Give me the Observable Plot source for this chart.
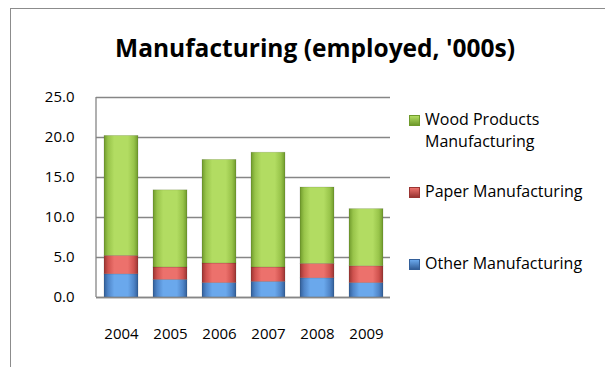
<!DOCTYPE html>
<html><head><meta charset="utf-8">
<script src="https://cdn.jsdelivr.net/npm/d3@7"></script>
<script src="https://cdn.jsdelivr.net/npm/@observablehq/plot@0.6"></script>
<style>
body{margin:0;background:#fff;font-family:"Open Sans",sans-serif;}
#wrap{position:relative;width:605px;height:367px;overflow:hidden;}
#frame{position:absolute;left:10px;top:8px;width:620px;height:380px;border:1px solid #8c8c8c;box-sizing:border-box;}
#title{position:absolute;left:10px;width:610px;top:31px;text-align:center;font-weight:bold;font-size:24.5px;color:#000;white-space:nowrap;}
#chart{position:absolute;left:0;top:0;}
.leg{position:absolute;left:409px;font-size:16px;line-height:22px;color:#000;white-space:nowrap;}
.sw{display:inline-block;width:11px;height:11px;margin-right:5px;vertical-align:-1px;box-sizing:border-box;}
</style></head>
<body><div id="wrap"><div id="frame"></div><div id="title">Manufacturing (employed, '000s)</div><div id="chart"></div><div id="legend"></div></div>
<script>
const years = ["2004","2005","2006","2007","2008","2009"];
const series = ["Other Manufacturing","Paper Manufacturing","Wood Products Manufacturing"];
const other = [2.9,2.2,1.8,1.95,2.4,1.8];
const paper = [2.3,1.55,2.45,1.8,1.8,2.1];
const wood = [15.0,9.65,12.95,14.35,9.55,7.15];
const yTicks = [0,5,10,15,20,25];

const values = [other, paper, wood];
const data = [];
years.forEach((yr,i)=>series.forEach((s,j)=>data.push({year:yr, series:s, value:values[j][i]})));

const grads = {
  "Wood Products Manufacturing":["#6f9a2c","#98c44a","#b2dc62"],
  "Paper Manufacturing":["#9a3532","#cf524e","#ec716c"],
  "Other Manufacturing":["#335f99","#4f85c8","#6aa8ec"]
};
const ids = {"Wood Products Manufacturing":"gw","Paper Manufacturing":"gp","Other Manufacturing":"go"};

const chart = Plot.plot({
  width:605, height:367,
  marginLeft:96, marginRight:215, marginTop:97, marginBottom:70,
  style:{fontFamily:"Open Sans, sans-serif", fontSize:"15px", color:"#000", background:"transparent"},
  x:{domain:years, paddingInner:0.31, paddingOuter:0.155, label:null},
  y:{domain:[0,25], label:null},
  color:{domain:series, range:series.map(s=>`url(#${ids[s]})`)},
  marks:[
    Plot.gridY(yTicks,{stroke:"#868686", strokeOpacity:1, strokeWidth:1.3}),
    Plot.barY(data, Plot.stackY({x:"year", y:"value", fill:"series", order:series, stroke:"rgba(0,0,0,0.15)", strokeWidth:0.8})),
    Plot.ruleY([0],{stroke:"#868686", strokeWidth:1.3}),
    Plot.axisY({ticks:yTicks, tickFormat:d3.format(".1f"), tickSize:0, tickPadding:22, fontSize:15, label:null}),
    Plot.axisX({tickSize:0, tickPadding:31, fontSize:15, label:null})
  ]
});
const svg = d3.select(chart);
const defs = svg.insert("defs",":first-child");
for (const s of series){
  const c = grads[s];
  const g = defs.append("linearGradient").attr("id",ids[s]).attr("x1","0").attr("x2","1").attr("y1","0").attr("y2","0");
  [[0,c[0]],[0.12,c[1]],[0.3,c[2]],[0.7,c[2]],[0.88,c[1]],[1,c[0]]].forEach(([o,col])=>g.append("stop").attr("offset",o).attr("stop-color",col));
}
svg.append("line").attr("x1",96).attr("x2",96).attr("y1",97).attr("y2",297).attr("stroke","#868686").attr("stroke-width",1.3);
document.getElementById("chart").appendChild(chart);

const legend = document.getElementById("legend");
const legItems = [
  {s:"Wood Products Manufacturing", lines:["Wood Products","Manufacturing"], top:108},
  {s:"Paper Manufacturing", lines:["Paper Manufacturing"], top:180},
  {s:"Other Manufacturing", lines:["Other Manufacturing"], top:252}
];
for (const it of legItems){
  const d = document.createElement("div");
  d.className="leg"; d.style.top = it.top+"px";
  const c = grads[it.s];
  d.innerHTML = `<span class="sw" style="background:linear-gradient(${c[2]},${c[0]});border:1px solid ${c[0]}"></span>${it.lines[0]}` + (it.lines[1]?`<br><span style="margin-left:16px">${it.lines[1]}</span>`:"");
  legend.appendChild(d);
}
</script></body></html>
